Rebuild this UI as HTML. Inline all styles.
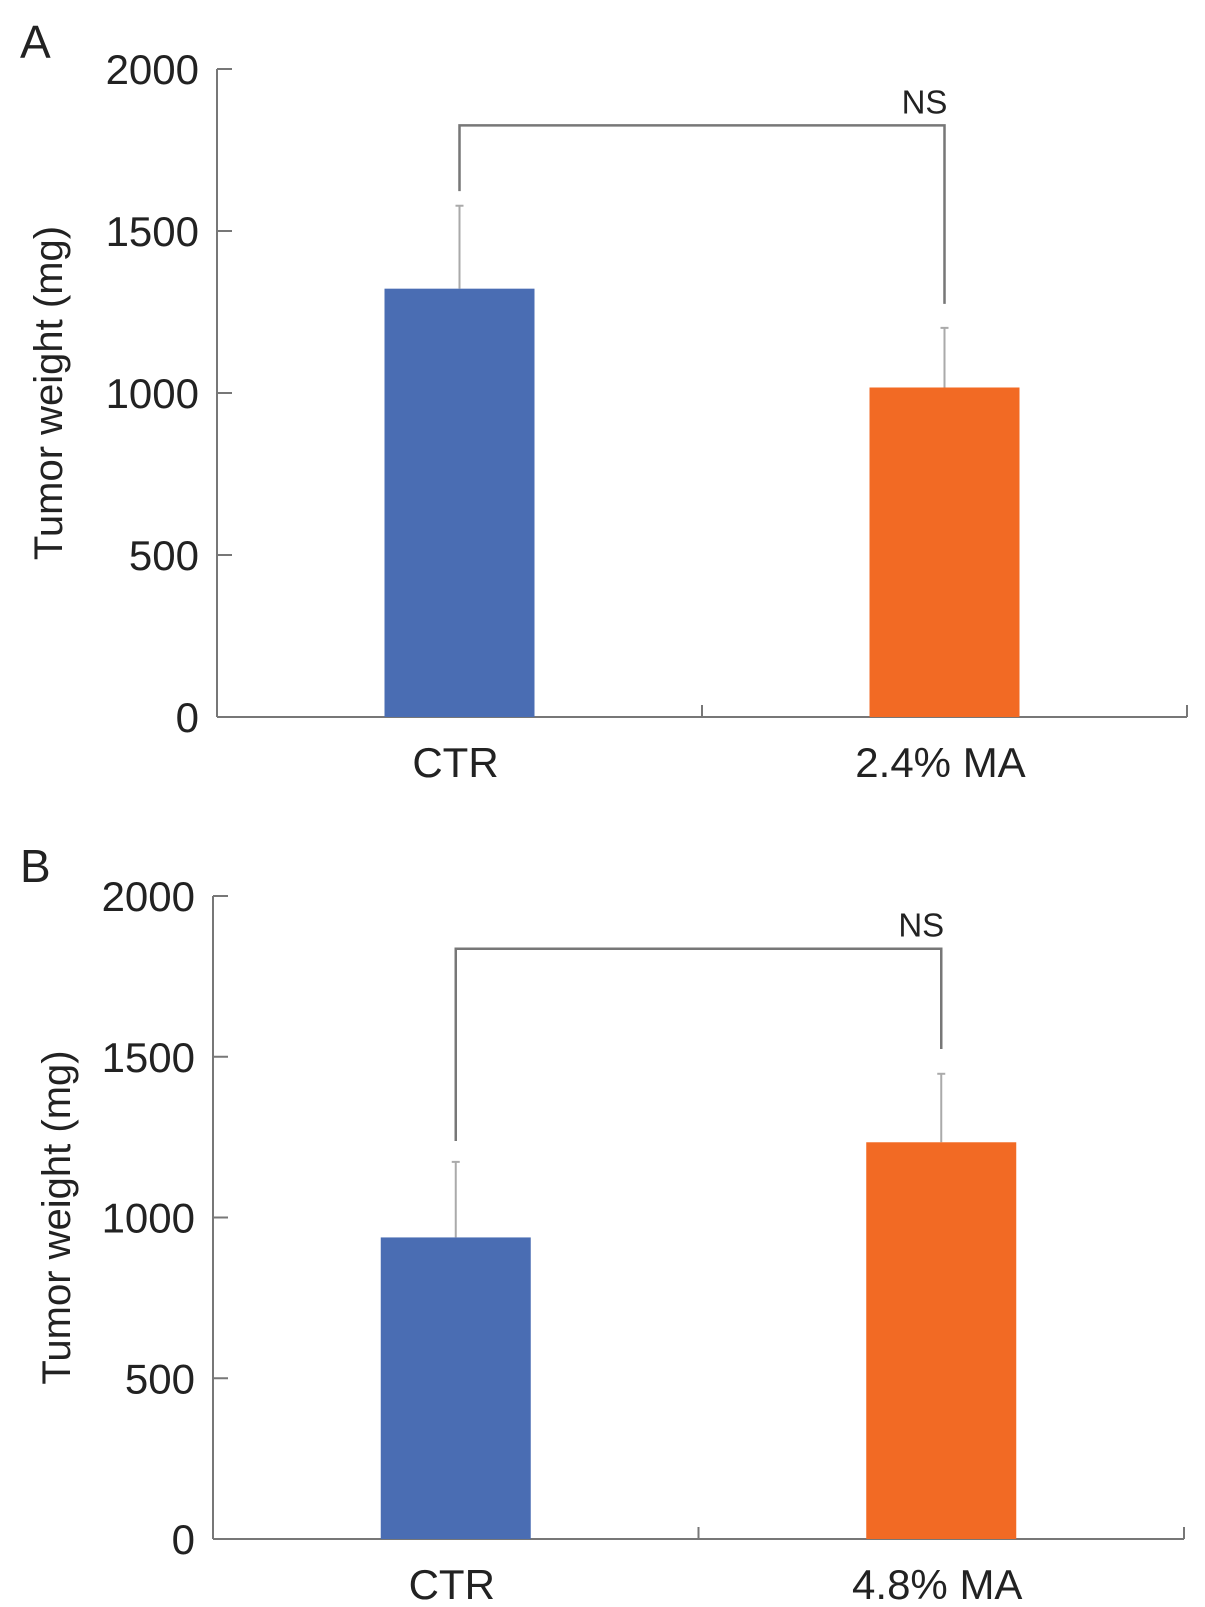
<!DOCTYPE html>
<html><head><meta charset="utf-8"><style>
body{margin:0;background:#fff;}
svg text{font-family:"Liberation Sans",sans-serif;fill:#222;}
</style></head><body>
<svg id="chart" width="1205" height="1602" viewBox="0 0 1205 1602"></svg>
<script>
const categoriesA = ["CTR", "2.4% MA"];
const meansA = [1322, 1017];
const errorsA = [256, 184];
const bracketA = [1826, 1623, 1275];
const categoriesB = ["CTR", "4.8% MA"];
const meansB = [938, 1234];
const errorsB = [235, 213];
const bracketB = [1836, 1238, 1524];
const yTicks = [0, 500, 1000, 1500, 2000];
const colors = ["#4a6db3", "#f26a24"];

const svg = document.getElementById('chart');
const NS = "http://www.w3.org/2000/svg";
function mk(tag, attrs, parent){const e=document.createElementNS(NS,tag);for(const k in attrs)e.setAttribute(k,attrs[k]);(parent||svg).appendChild(e);return e;}

function panel(p){
  const g = mk('g',{});
  
  
  const y = v => p.y0 - (v/2000)*(p.y0-p.y1);
  const xc = i => p.ax + (i+0.5)*(p.xEnd-p.ax)/2;
  const lbl = mk('text',{x:p.lx,y:p.ly,'font-size':46},g); lbl.textContent=p.letter;
  
  
  const yt = mk('text',{x:0,y:0,'font-size':40,'text-anchor':'middle',transform:`translate(${p.tx},${(p.y0+p.y1)/2}) rotate(-90)`},g);
  yt.textContent='Tumor weight (mg)';
  
  
  mk('line',{x1:p.ax,y1:p.y1,x2:p.ax,y2:p.y0,stroke:'#777','stroke-width':2},g);
  mk('line',{x1:p.ax,y1:p.y0,x2:p.xEnd,y2:p.y0,stroke:'#777','stroke-width':2},g);
  yTicks.forEach(t=>{
    mk('line',{x1:p.ax,y1:y(t),x2:p.ax+15,y2:y(t),stroke:'#777','stroke-width':2},g);
    const tx=mk('text',{x:p.ax-18,y:y(t)+15,'font-size':42,'text-anchor':'end'},g); tx.textContent=t;
    
    
  });
  [1,2].forEach(i=>{const xx=p.ax+i*(p.xEnd-p.ax)/2;mk('line',{x1:xx,y1:p.y0,x2:xx,y2:p.y0-12,stroke:'#777','stroke-width':2},g);});
  const bw=150;
  p.means.forEach((m,i)=>{
    const cx=xc(i);
    const e=p.errs[i];
    const el=mk('line',{x1:cx,y1:y(m),x2:cx,y2:y(m+e),stroke:'#aaa','stroke-width':2},g);
    
    
    mk('line',{x1:cx-4,y1:y(m+e),x2:cx+4,y2:y(m+e),stroke:'#aaa','stroke-width':2},g);
    const r=mk('rect',{x:cx-bw/2,y:y(m),width:bw,height:p.y0-y(m),fill:colors[i]},g);
    
    
    const t=mk('text',{x:cx-4,y:p.y0+60,'font-size':42,'text-anchor':'middle'},g); t.textContent=p.cats[i];
    
    
  });
  const b=p.bracket, x1=xc(0), x2=xc(1);
  const br=mk('polyline',{points:`${x1},${y(b[1])} ${x1},${y(b[0])} ${x2},${y(b[0])} ${x2},${y(b[2])}`,fill:'none',stroke:'#777','stroke-width':2.5},g);
  
  
  const ns=mk('text',{x:x2-20,y:y(b[0])-12,'font-size':33,'text-anchor':'middle'},g); ns.textContent='NS';
  
  
}
panel({name:'panel-a',letter:'A',lx:20,ly:58,tx:62,ax:217,xEnd:1187,y0:717,y1:69,cats:categoriesA,means:meansA,errs:errorsA,bracket:bracketA});
panel({name:'panel-b',letter:'B',lx:20,ly:882,tx:70,ax:213,xEnd:1184,y0:1539,y1:896,cats:categoriesB,means:meansB,errs:errorsB,bracket:bracketB});
</script>
</body></html>
